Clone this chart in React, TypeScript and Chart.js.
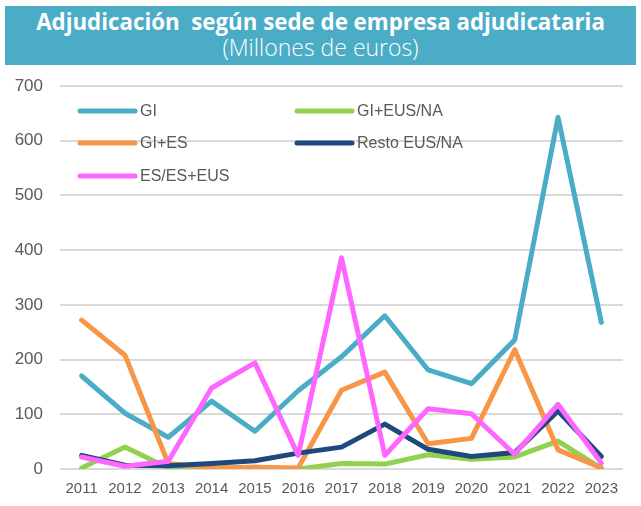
import React, { useEffect, useRef } from "react";
import { Chart, registerables } from "chart.js";

Chart.register(...registerables);

const years = ["2011","2012","2013","2014","2015","2016","2017","2018","2019","2020","2021","2022","2023"];
const gi = [170, 102, 58, 124, 69, 143, 205, 280, 181, 156, 236, 643, 268];
const giEusNa = [2, 40, 2, 1, 3, 0, 10, 9, 26, 18, 22, 51, 1];
const giEs = [272, 208, 10, 2, 3, 2, 144, 177, 46, 56, 218, 35, 2];
const restoEusNa = [25, 7, 6, 10, 15, 29, 40, 82, 36, 23, 30, 106, 23];
const esEsEus = [22, 5, 14, 148, 194, 25, 386, 25, 110, 101, 27, 118, 11];
const yTicks = [0, 100, 200, 300, 400, 500, 600, 700];

const seriesNames = ["GI", "GI+EUS/NA", "GI+ES", "Resto EUS/NA", "ES/ES+EUS"];
const seriesColors = ["#4BACC6", "#92D050", "#F79646", "#1F497D", "#FF66FF"];

const legendPlugin = {
  id: "insideLegend",
  afterDatasetsDraw(chart: any) {
    const ctx = chart.ctx;
    const ds = chart.data.datasets;
    const rowsY = [111, 143, 176];
    const colsX = [80, 297];
    ctx.save();
    ds.forEach((d: any, i: number) => {
      const x = colsX[i % 2];
      const y = rowsY[Math.floor(i / 2)];
      ctx.strokeStyle = d.borderColor;
      ctx.lineWidth = 5;
      ctx.lineCap = "round";
      ctx.beginPath();
      ctx.moveTo(x, y);
      ctx.lineTo(x + 55, y);
      ctx.stroke();
      ctx.fillStyle = "#595959";
      ctx.font = "16px 'Liberation Sans', Arial, sans-serif";
      ctx.textBaseline = "middle";
      ctx.textAlign = "left";
      ctx.fillText(d.label, x + 60, y + 1);
    });
    ctx.restore();
  },
};

export default function App() {
  const ref = useRef<HTMLCanvasElement | null>(null);
  useEffect(() => {
    document.body.style.margin = "0";
    if (!ref.current) return;
    const datasets = [gi, giEusNa, giEs, restoEusNa, esEsEus].map((data, k) => ({
      label: seriesNames[k],
      data,
      borderColor: seriesColors[k],
      backgroundColor: seriesColors[k],
      borderWidth: 5,
      pointRadius: 0,
      tension: 0,
      borderCapStyle: "round" as const,
      borderJoinStyle: "round" as const,
      order: 5 - k,
    }));
    const chart = new Chart(ref.current, {
      type: "line",
      data: { labels: years, datasets },
      options: {
        animation: false,
        responsive: false,
        maintainAspectRatio: false,
        layout: { padding: { top: 86, left: 14, right: 18, bottom: 0 } },
        plugins: { legend: { display: false }, tooltip: { enabled: false }, title: { display: false } },
        scales: {
          x: {
            offset: true,
            grid: { display: false, drawTicks: false },
            border: { display: false },
            afterFit: (axis: any) => {
              axis.height = 37;
            },
            ticks: {
              color: "#595959",
              font: { family: "'Liberation Sans', Arial, sans-serif", size: 15 },
              padding: 11,
              maxRotation: 0,
              autoSkip: false,
            },
          },
          y: {
            min: 0,
            max: 700,
            afterBuildTicks: (axis: any) => {
              axis.ticks = yTicks.map((v) => ({ value: v }));
            },
            afterFit: (axis: any) => {
              axis.width = 46;
            },
            grid: { color: "#D9D9D9", lineWidth: 2, drawTicks: false },
            border: { display: false },
            ticks: {
              color: "#595959",
              font: { family: "'Liberation Sans', Arial, sans-serif", size: 17 },
              padding: 17,
            },
          },
        },
      },
      plugins: [legendPlugin],
    });
    return () => chart.destroy();
  }, []);

  return (
    <div style={{ position: "relative", width: 641, height: 506, background: "#fff" }}>
      <canvas ref={ref} width={641} height={506} style={{ position: "absolute", left: 0, top: 0, width: 641, height: 506 }} />
      <div
        style={{
          position: "absolute",
          left: 5,
          top: 6,
          width: 631,
          height: 59,
          background: "#4BACC6",
          color: "#fff",
          textAlign: "center",
          fontFamily: "'Open Sans', 'Noto Sans', sans-serif",
        }}
      >
        <div style={{ fontSize: 22.3, fontWeight: 700, lineHeight: "26px", marginTop: 3, whiteSpace: "pre" }}>
          {"Adjudicación  según sede de empresa adjudicataria"}
        </div>
        <div style={{ fontSize: 23, fontWeight: 300, lineHeight: "26px", marginTop: -1 }}>(Millones de euros)</div>
      </div>
    </div>
  );
}
